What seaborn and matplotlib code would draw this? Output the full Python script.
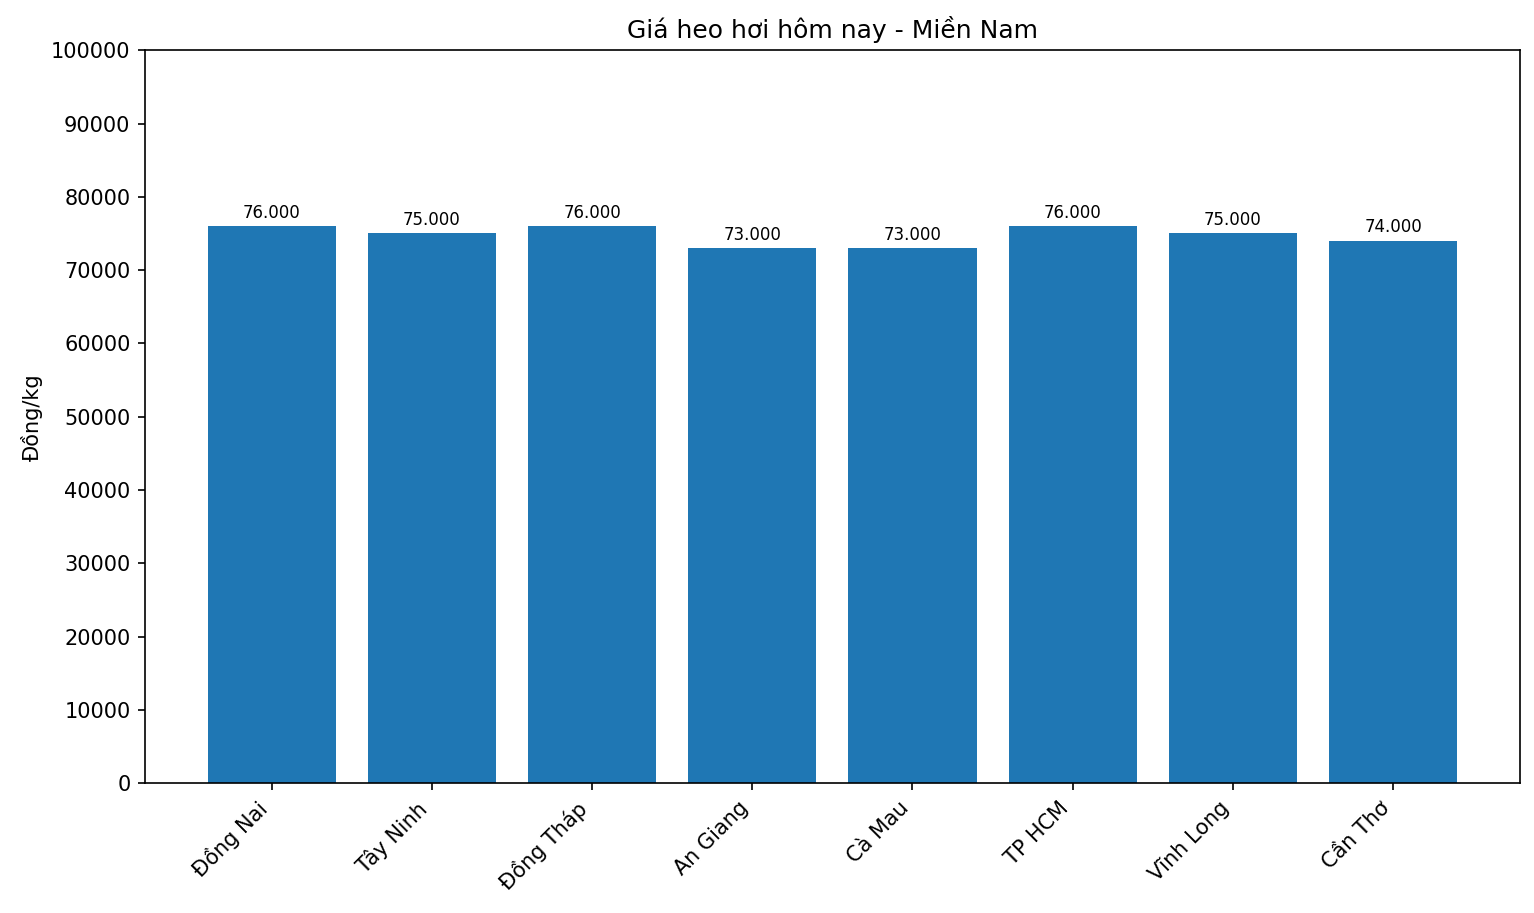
import matplotlib
matplotlib.use("Agg")
import matplotlib.pyplot as plt
import seaborn as sns
import pandas as pd

provinces = ["Đồng Nai", "Tây Ninh", "Đồng Tháp", "An Giang", "Cà Mau", "TP HCM", "Vĩnh Long", "Cần Thơ"]
prices = [76000, 75000, 76000, 73000, 73000, 76000, 75000, 74000]

df = pd.DataFrame({"province": provinces, "price": prices})

fig = plt.figure(figsize=(1535 / 150, 913 / 150), dpi=150)
ax = fig.add_axes([0.0945, 0.142, 0.8955, 0.803])
sns.barplot(data=df, x="province", y="price", color="#1f77b4", saturation=1, width=0.8, ax=ax)

for i, v in enumerate(prices):
    ax.text(i, v + 600, f"{v:,}".replace(",", "."), ha="center", va="bottom", fontsize=8)

# matplotlib-style 5% margins around the bars
n = len(provinces)
span = (n - 1) + 0.8
ax.set_xlim(-0.4 - 0.05 * span, n - 1 + 0.4 + 0.05 * span)
ax.set_ylim(0, 100000)
ax.set_yticks(range(0, 100001, 10000))
ax.set_xlabel("")
ax.set_ylabel("Đồng/kg")
ax.set_title("Giá heo hơi hôm nay - Miền Nam", fontsize=12)
plt.setp(ax.get_xticklabels(), rotation=45, ha="right")

fig.savefig("out.png", dpi=150)
